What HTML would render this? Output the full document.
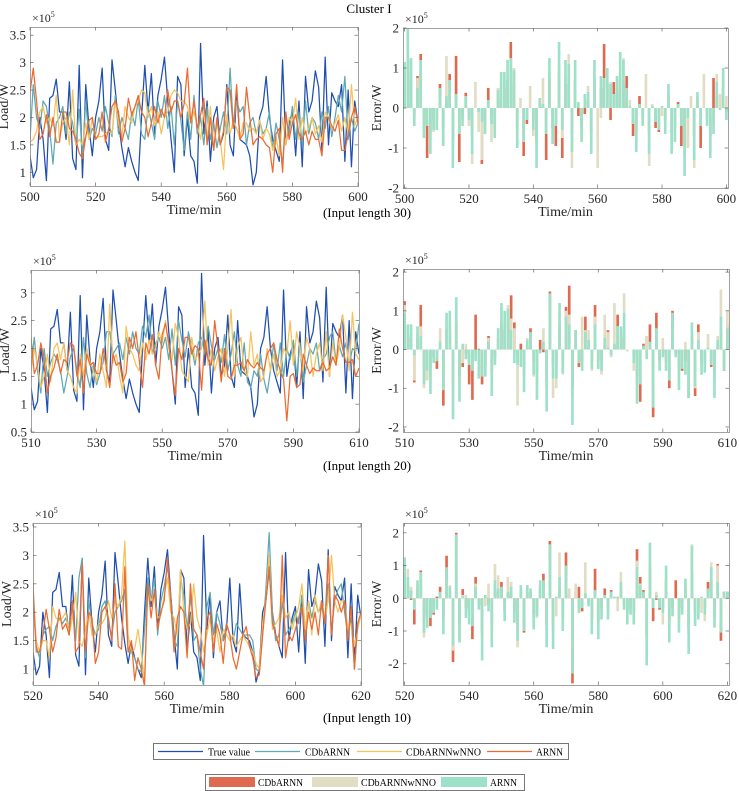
<!DOCTYPE html>
<html><head><meta charset="utf-8"><style>
html,body{margin:0;padding:0;background:#fff}
svg{display:block;font-family:"Liberation Serif",serif}
</style></head><body>
<svg id="fig" width="739" height="791" viewBox="0 0 739 791" xmlns="http://www.w3.org/2000/svg">
<text x="369" y="13" font-size="13" text-anchor="middle" fill="#000">Cluster I</text>
<text x="367" y="217" font-size="13" text-anchor="middle">(Input length 30)</text>
<text x="367" y="470" font-size="13" text-anchor="middle">(Input length 20)</text>
<text x="367" y="722" font-size="13" text-anchor="middle">(Input length 10)</text>
<g>
<rect x="153.5" y="743.5" width="415" height="16" fill="#fff" stroke="#555" stroke-width="0.8"/>
<line x1="158" y1="751.5" x2="203" y2="751.5" stroke="#1f4fb0" stroke-width="1.3"/><text x="208" y="755.5" font-size="11" textLength="42" lengthAdjust="spacingAndGlyphs">True value</text>
<line x1="255" y1="751.5" x2="300" y2="751.5" stroke="#5fa9b2" stroke-width="1.3"/><text x="305" y="755.5" font-size="11" textLength="45" lengthAdjust="spacingAndGlyphs">CDbARNN</text>
<line x1="357" y1="751.5" x2="402" y2="751.5" stroke="#f6c35a" stroke-width="1.3"/><text x="406" y="755.5" font-size="11" textLength="75" lengthAdjust="spacingAndGlyphs">CDbARNNwNNO</text>
<line x1="487" y1="751.5" x2="532" y2="751.5" stroke="#ee6a30" stroke-width="1.3"/><text x="536" y="755.5" font-size="11" textLength="27" lengthAdjust="spacingAndGlyphs">ARNN</text>
</g>
<g>
<rect x="205.5" y="774.5" width="319" height="16" fill="#fff" stroke="#555" stroke-width="0.8"/>
<rect x="209" y="777" width="46" height="10" fill="#e06a50"/><text x="258" y="786" font-size="11" textLength="45" lengthAdjust="spacingAndGlyphs">CDbARNN</text>
<rect x="312" y="777" width="46" height="10" fill="#e1ddc4"/><text x="361" y="786" font-size="11" textLength="75" lengthAdjust="spacingAndGlyphs">CDbARNNwNNO</text>
<rect x="441" y="777" width="46" height="10" fill="#9de1c9"/><text x="490" y="786" font-size="11" textLength="27" lengthAdjust="spacingAndGlyphs">ARNN</text>
</g>
</svg>
<script>
// shared true load series (x1e5), sample k = 0..100
const trueLoad = [1.3,0.9,1.05,2.0,1.6,0.85,2.35,2.4,2.7,2.1,
2.1,1.6,2.65,1.25,1.05,2.95,0.9,2.6,1.8,1.3,
2.0,2.3,2.9,1.6,1.4,3.05,2.5,1.9,1.45,1.1,
1.45,1.2,1.0,0.85,2.0,2.95,2.1,2.8,1.7,2.4,
2.7,3.1,2.3,1.6,1.0,2.75,2.6,1.3,2.0,1.3,
1.2,0.8,3.35,1.7,2.3,1.2,2.0,2.2,1.5,1.7,
2.6,1.5,1.3,2.5,1.6,1.55,1.5,1.3,0.77,1.0,
2.0,2.2,2.75,2.0,1.6,1.4,1.2,3.05,1.5,1.9,
2.1,1.3,2.3,1.1,2.75,2.1,2.3,2.85,2.55,1.4,
3.1,1.5,2.45,2.3,2.2,2.6,1.2,2.5,1.1,2.3,1.9];
const panelStarts = [500,510,520];
// predictions (x1e5)
const predArnn1 = [2.45,2.9,2.3,1.6,1.7,2.05,1.65,2.0,1.55,1.55,2.1,2.1,1.8,1.75,1.6,1.35,1.25,1.65,1.95,2.0,1.6,1.7,2.1,1.55,1.8,2.2,2.3,2.1,1.55,1.8,2.35,2.05,2.2,2.4,2.1,2.0,1.65,1.9,2.2,1.9,2.15,2.0,2.5,2.1,2.3,2.3,2.0,2.25,2.9,1.9,2.3,1.8,2.05,2.35,1.5,2.0,1.4,2.0,1.5,1.75,2.55,2.5,1.8,2.6,1.6,1.7,2.55,2.0,1.5,1.6,1.65,1.6,1.5,1.45,1.0,1.7,1.8,1.0,2.1,1.6,1.9,2.05,1.7,1.6,1.75,1.5,1.75,1.6,1.6,1.3,2.0,2.0,1.85,1.75,1.95,1.4,1.4,1.7,2.0,2.2,1.9];
const predCdb1 = [1.6,2.6,2.0,1.8,2.3,2.2,1.8,1.15,1.9,2.0,2.2,1.7,2.1,1.9,1.5,2.15,1.3,2.3,1.6,1.8,1.7,2.0,1.75,2.2,1.9,1.65,2.4,1.7,2.0,1.8,1.6,2.1,1.85,2.35,1.7,1.6,2.2,1.9,1.6,2.3,2.0,2.4,1.8,2.2,1.5,2.3,1.95,1.4,2.1,1.6,2.4,1.7,2.0,1.5,2.2,1.6,1.9,1.45,1.8,2.1,1.7,2.9,1.8,2.3,2.1,2.2,1.5,1.9,2.0,1.7,1.95,1.7,1.8,2.1,1.4,1.9,1.6,1.15,2.0,1.7,2.2,1.6,2.1,1.5,2.3,1.7,2.0,1.9,1.6,2.1,1.8,2.2,1.65,2.0,2.4,2.1,2.75,1.6,2.0,1.75,1.9];
const predWnno1 = [1.55,1.6,1.75,2.1,2.2,1.9,2.0,1.85,2.4,1.6,1.9,2.0,1.5,2.5,1.5,1.6,1.5,1.9,1.6,2.0,1.6,1.65,1.65,1.7,1.75,1.7,2.3,1.9,1.65,2.2,2.0,1.9,2.2,2.3,2.5,2.45,2.0,2.2,1.85,2.1,1.7,2.0,2.1,2.4,2.5,2.45,2.3,2.3,2.2,1.9,2.1,1.85,1.6,2.15,1.6,2.2,1.4,1.9,1.6,1.05,2.05,1.7,1.95,1.8,1.6,1.9,1.9,1.75,1.8,1.7,1.95,1.6,1.8,1.7,1.4,1.65,1.3,2.0,1.5,2.0,1.9,2.35,1.6,2.0,1.7,1.8,2.0,1.7,1.85,1.55,2.1,2.0,1.8,1.9,2.05,1.75,2.0,1.7,2.6,1.85,2.0];
const predArnn2 = [2.2,1.55,1.7,2.1,1.8,1.2,1.5,1.65,1.9,1.55,1.8,1.75,2.1,2.05,1.5,1.8,1.2,1.9,1.7,1.75,1.55,1.55,2.0,1.65,1.3,1.9,1.7,1.75,1.4,1.55,2.2,2.0,2.3,1.8,1.3,2.1,1.9,2.25,1.7,1.45,2.25,2.45,2.1,1.6,1.15,2.0,1.8,2.2,2.2,1.9,2.05,2.0,1.25,2.15,1.8,1.7,2.5,2.0,1.4,2.0,1.5,1.45,1.7,1.7,1.75,1.6,1.8,1.7,1.65,1.75,1.65,1.6,1.9,2.0,2.1,1.8,1.6,1.45,0.7,1.5,1.55,1.3,1.35,1.9,1.7,1.55,1.65,1.6,1.6,1.75,1.6,1.65,1.85,1.7,2.35,2.0,1.75,1.75,1.8,1.5,1.65];
const predCdb2 = [1.65,2.2,1.6,1.2,2.0,1.5,1.75,1.9,1.8,1.6,1.2,1.5,1.85,2.0,1.6,1.3,2.2,1.55,1.3,1.7,1.35,1.55,1.75,2.3,2.3,1.9,2.0,2.1,1.8,2.2,1.9,2.3,2.0,1.9,2.4,2.2,2.6,1.9,2.1,2.2,2.0,2.2,1.8,2.35,1.7,2.5,2.15,1.85,2.3,2.0,1.7,2.1,2.2,1.9,2.4,2.05,1.8,2.0,1.75,2.25,1.6,1.9,2.3,1.7,1.5,2.1,1.4,1.3,1.6,1.5,1.9,1.45,1.2,1.6,2.1,1.6,2.1,1.5,2.0,1.8,2.15,1.5,2.1,1.4,1.7,2.0,1.9,2.1,1.6,1.8,1.9,2.2,2.3,1.75,2.05,1.85,2.1,1.7,2.0,1.95,2.45];
const predWnno2 = [1.6,2.0,1.7,1.3,1.5,1.9,1.4,2.0,2.1,1.8,2.1,1.6,1.5,1.3,1.2,1.9,1.5,2.0,1.75,1.6,1.4,1.9,1.6,1.3,2.8,1.75,1.9,1.5,1.2,2.4,2.0,1.9,1.7,1.6,2.1,1.8,2.15,1.9,2.0,2.3,2.1,2.5,2.0,1.8,2.45,2.2,1.6,1.5,1.4,2.2,1.8,1.9,2.0,2.85,1.7,2.0,1.6,1.85,2.0,1.5,2.0,2.7,1.5,2.0,2.2,1.6,1.5,2.3,1.7,1.9,1.4,1.5,2.0,1.6,1.9,1.5,1.6,2.0,1.9,2.5,1.7,2.3,2.0,1.6,2.2,2.0,1.5,1.9,2.1,1.6,2.3,1.5,2.1,1.7,2.0,2.6,2.2,1.6,2.65,1.9,1.8];
const predArnn3 = [2.5,1.3,1.3,1.6,2.05,1.7,1.3,1.55,2.05,1.7,1.8,1.6,2.2,1.3,1.4,2.85,1.3,2.0,1.9,1.1,1.3,2.0,2.1,1.9,1.5,2.5,1.4,1.35,2.8,1.3,1.5,0.8,1.2,1.0,0.7,2.5,1.9,2.4,1.7,2.0,2.2,2.95,2.2,1.3,1.9,2.1,2.0,1.2,2.5,1.7,1.6,1.3,1.0,1.9,2.0,1.3,1.8,1.6,1.1,1.8,1.6,1.2,1.0,1.3,1.6,1.75,1.4,1.2,0.85,0.9,1.6,2.2,2.8,1.8,1.6,1.4,3.0,1.2,1.6,1.5,1.7,1.9,2.1,1.5,2.0,1.7,2.0,1.6,2.2,1.8,3.0,1.6,2.3,2.2,2.0,2.2,1.5,2.1,1.0,1.8,2.0];
const predCdb3 = [2.2,1.4,1.2,1.6,1.7,1.75,1.5,1.75,1.9,1.8,1.9,1.7,2.1,1.5,2.6,2.95,1.2,2.2,1.8,1.6,1.7,2.1,2.2,1.8,1.6,2.0,2.1,2.2,2.4,1.3,1.3,1.2,1.0,0.95,1.7,2.6,2.2,2.6,1.6,2.2,2.45,2.8,2.3,1.5,1.4,2.6,2.3,1.7,2.3,1.5,1.6,1.0,0.7,2.1,2.35,1.6,2.0,1.8,1.5,1.8,1.6,1.5,1.8,1.7,1.6,1.6,1.6,1.5,1.0,0.95,1.6,2.4,3.4,2.0,1.5,1.6,2.2,1.6,1.7,1.8,2.0,1.8,2.3,1.6,2.2,1.9,2.2,2.0,2.1,1.8,2.5,1.7,2.2,2.4,2.5,2.0,1.6,1.9,1.0,1.8,1.95];
const predWnno3 = [2.3,1.5,1.3,1.5,1.5,1.2,2.1,1.9,1.85,1.9,2.0,1.6,1.9,2.35,1.5,1.4,1.7,2.0,1.6,1.6,1.8,1.8,1.9,2.2,1.9,2.2,2.1,2.3,3.25,1.6,1.3,1.35,1.7,1.3,0.8,2.4,2.2,2.3,1.9,1.95,2.3,2.6,2.0,1.9,1.6,2.75,2.0,1.7,1.8,2.5,1.9,1.7,1.3,1.6,1.9,1.5,1.7,1.3,1.7,1.6,1.5,1.6,1.4,1.5,1.6,1.5,1.4,1.3,1.1,1.0,1.8,2.2,3.0,1.7,1.8,1.9,2.3,1.9,2.0,1.7,1.9,2.1,2.5,1.7,2.2,1.6,2.3,2.0,2.2,1.9,2.2,3.0,2.2,2.0,2.2,2.2,1.7,1.8,1.4,1.7,1.95];
// errors (x1e5) per panel: ARNN, CDbARNNwNNO, CDbARNN
const errArnn1 = [1.15,2.0,1.25,-0.45,0.5,1.2,-0.75,-0.45,-1.15,-0.55,-0.55,0.5,-0.95,0.3,0.7,-1.5,0.35,-0.65,-0.45,0.3,-0.3,-1.15,0.0,-0.1,-0.35,-0.65,0.2,-0.4,-0.75,0.45,0.9,0.9,1.2,1.25,0.95,-1.0,0.0,-0.85,-0.3,0.0,-0.55,-1.5,0.25,0.1,-0.65,1.25,-0.9,-0.45,1.65,-0.55,1.2,1.1,-1.1,1.2,0.15,-0.85,0.35,0.4,-1.15,1.2,0.0,0.8,0.75,1.0,0.6,0.35,0.8,1.4,1.2,0.5,0.05,-0.4,-1.1,0.1,-0.45,0.0,-1.15,0.05,-0.35,-0.55,0.05,-0.65,0.6,-1.15,-0.85,0.1,-0.45,-1.7,-0.25,0.0,-1.3,0.4,-0.45,0.0,-0.45,-1.25,-0.65,0.65,-0.05,1.0,-0.3];
const errWnno1 = [0.8,1.4,0.9,-0.3,0.75,0.9,-0.5,-0.3,-0.8,-0.6,-0.4,0.3,-0.95,1.3,0.5,-1.0,0.2,-0.5,-0.3,0.2,-0.45,-1.4,0.65,-0.6,-1.3,-0.4,0.1,-0.85,-0.5,0.5,0.6,0.7,0.8,1.0,1.0,-0.7,0.25,-0.6,-0.2,0.55,-0.7,-1.0,0.15,0.75,-0.4,0.9,-0.6,-0.3,1.1,-0.75,0.8,1.35,-1.5,0.8,0.1,-0.6,0.2,0.55,-0.8,0.8,-1.5,-0.25,0.5,0.7,0.65,0.2,0.5,1.0,1.25,0.3,0.2,-0.3,-0.8,0.05,-0.3,0.85,-1.45,0.1,-0.2,-0.4,-0.2,-0.4,0.4,-0.8,-0.6,0.05,-0.3,-1.2,-1.0,0.3,-1.5,0.3,-0.3,0.85,-0.3,-0.9,-0.4,0.85,0.35,0.7,0.3];
const errCdb1 = [0.6,1.2,0.7,-0.2,0.8,1.35,-0.4,-1.25,-0.6,-0.3,-0.3,0.6,-0.5,0.2,0.85,-0.8,1.3,-1.35,-0.2,0.38,-0.2,-0.7,0.0,-0.05,-1.4,-0.3,0.5,-0.2,-0.4,0.2,0.5,0.5,0.7,1.65,0.6,-0.5,0.0,-1.2,-0.4,0.0,-0.3,-0.8,0.1,0.05,-1.3,0.7,-0.5,-0.95,0.9,-1.25,0.6,0.6,-0.6,0.7,-0.2,-0.5,-0.15,0.2,-0.6,0.7,0.0,0.5,1.6,0.6,-0.3,0.65,0.4,0.7,0.6,0.8,0.0,-0.7,-0.6,0.3,-0.2,0.0,-0.6,0.0,-0.5,-0.6,0.0,-0.3,0.3,-0.6,-0.5,0.15,-0.95,-0.9,-0.95,0.0,-0.7,0.2,-1.0,0.0,-0.2,-0.7,0.75,0.3,0.0,0.5,-0.1];
const errArnn2 = [0.95,0.65,0.65,-0.15,0.6,0.35,-0.9,-0.55,-1.15,-0.35,-0.3,0.2,-1.05,0.95,1.0,-1.8,1.35,-1.35,0.15,-0.25,-0.4,-0.55,-0.3,-0.75,-0.7,-0.7,0.2,-1.2,-0.4,0.55,1.2,1.0,1.05,0.5,-0.35,-0.4,-0.45,-1.1,0.25,0.45,-0.65,-1.3,-0.1,0.2,-1.6,1.45,-0.75,-0.75,1.2,-0.6,0.85,0.65,-1.95,0.5,-0.35,-0.55,0.45,0.25,-0.5,0.65,-0.5,-0.55,0.3,0.05,-0.15,0.15,0.6,0.6,0.95,0.0,0.0,-0.35,-1.4,-0.9,0.1,-0.25,0.2,-1.5,0.55,-0.55,-0.2,-0.55,-0.8,0.95,-0.2,-1.05,-0.5,-0.65,-1.25,0.7,-0.95,0.25,-0.65,-0.6,0.05,-0.4,-1.25,0.25,0.85,-0.55,0.55];
const errWnno2 = [1.15,0.4,0.4,-0.8,0.4,0.6,-1.0,-0.8,-0.7,-0.2,-0.2,0.55,-0.6,0.6,0.7,-1.1,0.8,-0.9,-0.35,0.15,-0.3,-0.5,-0.2,-0.5,-0.4,-0.5,0.3,-0.8,-0.2,0.55,0.8,0.7,1.15,0.8,0.55,-1.45,-0.3,-0.7,0.3,0.3,-0.7,-0.9,-0.05,0.55,-1.0,0.9,-1.25,-1.0,0.8,-0.65,1.0,0.9,-1.2,0.3,-0.2,0.85,0.5,0.5,-0.55,0.85,-0.5,-0.65,0.9,0.45,-0.2,1.2,0.6,0.4,1.45,-0.05,0.0,-0.55,-0.9,-0.6,0.05,0.35,0.1,-1.0,0.3,-0.3,0.3,-0.3,-0.5,0.6,-0.1,-0.7,-0.3,0.2,-0.8,0.4,-1.0,0.45,-0.4,-0.4,0.4,-0.2,-0.8,0.35,1.55,-0.3,1.0];
const errCdb2 = [1.25,0.3,0.3,-0.85,0.3,1.15,-0.5,-0.8,-0.5,-0.2,-0.5,0.1,-1.45,0.5,0.5,-0.9,0.7,-0.7,-0.45,-0.1,-0.9,-1.3,0.9,0.02,-0.9,-0.4,0.35,-0.6,-0.2,0.3,0.6,0.5,0.6,1.4,0.7,-0.2,0.15,-0.5,0.1,0.55,-0.3,-0.6,0.25,-0.07,-0.8,1.5,-0.4,-0.4,0.6,-0.3,1.1,1.65,-1.0,0.5,-0.45,-0.3,0.85,0.1,-0.3,1.15,-0.3,-0.3,0.1,0.5,-0.1,0.1,0.9,0.3,0.5,0.0,0.0,-0.2,-0.7,-1.35,0.15,0.35,0.65,-1.75,0.95,-0.3,-0.1,-0.3,-1.0,1.0,-0.1,-0.5,-0.55,-0.3,-1.25,0.3,-1.2,0.65,-0.3,-0.3,0.0,-0.45,-0.6,0.1,0.4,-0.55,0.65];
const errArnn3 = [1.25,0.65,0.25,-0.35,0.55,0.8,-1.05,-0.9,-0.6,-0.45,-0.35,0.2,-1.1,0.95,0.35,-1.45,1.95,-1.35,0.05,-0.6,-0.8,-0.85,0.35,-0.35,-1.9,0.1,-0.4,-1.5,0.55,0.3,0.35,-0.7,0.2,0.35,-0.75,-1.3,0.4,-1.0,0.4,0.3,-0.95,-0.55,0.55,0.55,-1.5,1.65,-1.55,0.05,0.65,-1.0,1.0,0.0,-2.3,0.0,-0.45,-0.3,0.15,-0.25,-1.1,0.25,-1.25,-0.65,0.1,-0.65,0.2,0.05,0.05,0.5,-0.35,-0.8,-0.5,-0.8,0.95,0.4,0.2,-2.05,1.7,-0.3,0.1,-0.3,-0.45,1.0,-1.35,-0.55,0.0,-1.05,-0.5,0.6,-1.7,1.6,-0.85,-0.65,0.05,-0.5,0.3,0.95,-0.9,0.5,-1.05,0.2,0.2];
const errWnno3 = [0.8,0.9,0.35,-0.3,0.4,0.6,-1.2,-0.6,-0.4,-0.3,-0.2,0.1,-0.7,0.6,0.4,-1.6,1.3,-1.3,0.1,0.1,-0.5,-0.6,0.45,-0.2,-1.2,-0.25,0.45,-1.0,1.05,0.7,0.2,-0.5,0.65,0.5,-0.5,-1.5,0.3,-0.7,0.4,0.2,-0.6,-0.6,0.4,0.4,-1.0,1.1,-1.0,-0.55,1.4,-0.6,0.7,0.3,-1.5,0.45,-0.3,-0.2,1.1,-0.15,-0.7,0.15,-0.8,-0.4,0.05,-0.4,0.1,0.03,-0.4,0.8,-0.2,-0.5,-0.3,-0.5,1.15,0.45,0.1,-1.3,1.1,-0.2,0.2,-0.2,-0.8,0.6,-0.9,-0.3,0.0,-0.7,-0.3,0.4,-1.1,1.65,-0.5,-0.4,-0.45,-0.7,0.2,1.1,-0.6,1.0,-0.7,0.2,0.1];
const errCdb3 = [0.6,0.4,-0.05,-0.8,0.3,0.85,-0.7,-0.5,-0.85,-0.5,0.05,0.35,-0.6,1.3,0.2,-1.95,2.0,-0.8,0.28,-0.3,-0.4,-1.25,0.65,-0.2,-1.0,0.05,-0.2,-0.8,0.3,0.2,0.5,-0.4,0.1,0.2,-0.4,-0.8,0.2,-1.05,0.2,0.2,-0.5,-0.3,0.3,0.75,-0.8,1.75,-0.8,0.0,0.3,-0.6,1.4,0.1,-2.6,0.2,0.35,-0.4,0.1,-0.1,-0.6,0.9,-0.7,-0.3,0.3,-0.3,0.25,0.02,0.02,0.3,-0.2,-0.4,-0.3,-0.4,1.5,0.65,0.25,-1.1,0.9,-0.7,-0.05,-0.35,-0.3,0.5,-0.7,-0.3,0.55,-0.6,-0.3,0.3,-0.9,0.8,-0.4,-0.3,0.0,-0.3,0.5,0.6,-0.5,1.05,-1.3,0.2,0.2];
const loadTicks1 = [1,1.5,2,2.5,3,3.5];
const loadTicks2 = [0.5,1,1.5,2,2.5,3];
const errTicks = [-2,-1,0,1,2];
const timeTicks1 = [500,520,540,560,580,600];
const timeTicks2 = [510,530,550,570,590,610];
const timeTicks3 = [520,540,560,580,600,620];

const NS='http://www.w3.org/2000/svg';
const svg=document.getElementById('fig');
function mk(tag,attrs,parent){const e=document.createElementNS(NS,tag);for(const k in attrs)e.setAttribute(k,attrs[k]);(parent||svg).appendChild(e);return e;}

function axes(g,box,xlim,ylim,xticks,yticks,ylabel){
  const sx=v=>box.x0+(v-xlim[0])/(xlim[1]-xlim[0])*(box.x1-box.x0);
  const sy=v=>box.y1-(v-ylim[0])/(ylim[1]-ylim[0])*(box.y1-box.y0);
  mk('rect',{x:box.x0,y:box.y0,width:box.x1-box.x0,height:box.y1-box.y0,fill:'#fff',stroke:'none'},g);
  return {sx,sy,finish:function(){
    mk('rect',{x:box.x0+0.5,y:box.y0+0.5,width:box.x1-box.x0,height:box.y1-box.y0,fill:'none',stroke:'#8a8a8a','stroke-width':0.8},g);
    xticks.forEach(t=>{const x=sx(t);
      mk('line',{x1:x,y1:box.y1,x2:x,y2:box.y1-3.5,stroke:'#666','stroke-width':0.7},g);
      mk('line',{x1:x,y1:box.y0,x2:x,y2:box.y0+3.5,stroke:'#666','stroke-width':0.7},g);
      const tx=mk('text',{x:x,y:box.y1+15,'font-size':13,'text-anchor':'middle',fill:'#262626'},g);tx.textContent=t;
      
      
    });
    yticks.forEach(t=>{const y=sy(t);
      mk('line',{x1:box.x0,y1:y,x2:box.x0+3.5,y2:y,stroke:'#666','stroke-width':0.7},g);
      mk('line',{x1:box.x1,y1:y,x2:box.x1-3.5,y2:y,stroke:'#666','stroke-width':0.7},g);
      const tx=mk('text',{x:box.x0-4,y:y+4.5,'font-size':13,'text-anchor':'end',fill:'#262626'},g);tx.textContent=String(t);
      
      
    });
    const xl=mk('text',{x:(box.x0+box.x1)/2,y:box.y1+28,'font-size':14,'text-anchor':'middle',fill:'#262626'},g);xl.textContent='Time/min';
    
    
    const cy=(box.y0+box.y1)/2;
    const yl=mk('text',{x:box.x0-22,y:cy,'font-size':14,'text-anchor':'middle',fill:'#262626',transform:`rotate(-90 ${box.x0-22} ${cy})`},g);yl.textContent=ylabel;
    
    
    const ex=mk('text',{x:box.x0+2,y:box.y0-5,'font-size':12,fill:'#262626'},g);
    ex.textContent='×10';
    const sp=mk('tspan',{dy:-5,'font-size':8},ex);sp.textContent='5';
    
    
  }};
}

function linePanel(name,box,start,ylim,yticks,xticks,preds){
  const g=mk('g',{});
  
  
  const ax=axes(g,box,[start,start+100],ylim,xticks,yticks,'Load/W');
  const clipId=name+'-clip';
  const cp=mk('clipPath',{id:clipId},g);mk('rect',{x:box.x0,y:box.y0,width:box.x1-box.x0,height:box.y1-box.y0},cp);
  const series=[
    {nm:'true-value-line',col:'#1f4fb0',vals:trueLoad},
    {nm:'cdbarnn-line',col:'#5fa9b2',vals:preds[2]},
    {nm:'cdbarnnwnno-line',col:'#f6c35a',vals:preds[1]},
    {nm:'arnn-line',col:'#ee6a30',vals:preds[0]}
  ];
  series.forEach(s=>{
    const d=s.vals.map((v,i)=>(i?'L':'M')+ax.sx(start+i).toFixed(2)+' '+ax.sy(v).toFixed(2)).join('');
    const p=mk('path',{d:d,fill:'none',stroke:s.col,'stroke-width':1.25,'stroke-linejoin':'round','clip-path':`url(#${clipId})`},g);
    
    
  });
  ax.finish();
}

function barPanel(name,box,start,ylim,xticks,errs){
  const g=mk('g',{});
  
  
  const ax=axes(g,box,[start-0.5,start+100.5],ylim,xticks,errTicks,'Error/W');
  const w=(ax.sx(start+1)-ax.sx(start))*0.82;
  const order=[{e:errs[2],c:'#e06a50',nm:'cdbarnn-error-bar'},{e:errs[1],c:'#e1ddc4',nm:'cdbarnnwnno-error-bar'},{e:errs[0],c:'#9de1c9',nm:'arnn-error-bar'}];
  order.forEach(s=>{
    s.e.forEach((v,i)=>{
      const x=ax.sx(start+i)-w/2, y0=ax.sy(0), y1=ax.sy(v);
      const r=mk('rect',{x:x.toFixed(2),y:Math.min(y0,y1).toFixed(2),width:w.toFixed(2),height:Math.abs(y1-y0).toFixed(2),fill:s.c},g);
      
      
    });
  });
  ax.finish();
}

linePanel('load-chart-input-30',{x0:30,x1:358,y0:27,y1:186},panelStarts[0],[0.75,3.65],loadTicks1,timeTicks1,[predArnn1,predWnno1,predCdb1]);
barPanel('error-chart-input-30',{x0:403,x1:728,y0:28,y1:188},panelStarts[0],[-2,2],timeTicks1,[errArnn1,errWnno1,errCdb1]);
linePanel('load-chart-input-20',{x0:31,x1:359,y0:270,y1:432},panelStarts[1],[0.5,3.41],loadTicks2,timeTicks2,[predArnn2,predWnno2,predCdb2]);
barPanel('error-chart-input-20',{x0:403,x1:729,y0:269,y1:432},panelStarts[1],[-2.13,2.08],timeTicks2,[errArnn2,errWnno2,errCdb2]);
linePanel('load-chart-input-10',{x0:33,x1:361,y0:523,y1:685},panelStarts[2],[0.72,3.57],loadTicks1,timeTicks3,[predArnn3,predWnno3,predCdb3]);
barPanel('error-chart-input-10',{x0:403,x1:729,y0:523,y1:685},panelStarts[2],[-2.65,2.3],timeTicks3,[errArnn3,errWnno3,errCdb3]);
</script>
</body></html>
